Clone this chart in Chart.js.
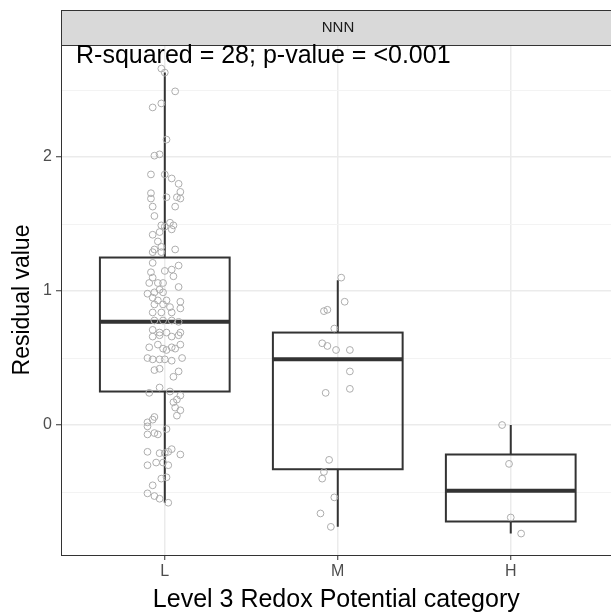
<!DOCTYPE html>
<html>
<head>
<meta charset="utf-8">
<script src="https://cdn.jsdelivr.net/npm/chart.js@4.4.1/dist/chart.umd.min.js"></script>
<style>
  html, body { margin: 0; padding: 0; background: #fff; overflow: hidden; }
  #wrap { width: 611px; height: 615px; overflow: hidden; }
  canvas { display: block; }
</style>
</head>
<body>
<div id="wrap"><canvas id="chart" width="616" height="615"></canvas></div>
<script>
// カテゴリ
const categories = ['L', 'M', 'H'];

// 箱ひげ図の統計量 (下ひげ, Q1, 中央値, Q3, 上ひげ)
const whiskerLow = [-0.58, -0.76, -0.81];
const q1 = [0.25, -0.33, -0.72];
const medians = [0.77, 0.49, -0.49];
const q3 = [1.25, 0.69, -0.22];
const whiskerHigh = [2.63, 1.08, 0.00];

// 個々の点 (残差) と横方向のジッター (カテゴリ単位)
const lValues = [2.66, 2.63, 2.49, 2.37, 2.40, 2.13, 2.01, 2.02, 1.87, 1.87, 1.84, 1.80, 1.74, 1.73, 1.69,
    1.70, 1.70, 1.69, 1.63, 1.63, 1.56, 1.49, 1.51, 1.49, 1.48, 1.44, 1.42, 1.46, 1.37, 1.33, 1.31, 1.31,
    1.29, 1.29, 1.21, 1.15, 1.16, 1.19, 1.14, 1.10, 1.11, 1.06, 1.06, 1.06, 1.03, 0.98, 0.99, 1.01, 0.99,
    0.95, 0.93, 0.93, 0.92, 0.90, 0.90, 0.88, 0.87, 0.84, 0.84, 0.84, 0.78, 0.78, 0.78, 0.77, 0.71, 0.69,
    0.69, 0.69, 0.66, 0.66, 0.67, 0.67, 0.58, 0.60, 0.57, 0.58, 0.60, 0.56, 0.57, 0.50, 0.49, 0.49, 0.49,
    0.48, 0.50, 0.41, 0.42, 0.36, 0.40, 0.24, 0.28, 0.25, 0.22, 0.19, 0.17, 0.13, 0.11, 0.07, 0.04, 0.06,
    0.02, -0.01, -0.07, -0.06, -0.07, -0.03, -0.20, -0.21, -0.21, -0.20, -0.18, -0.22, -0.30, -0.28, -0.28,
    -0.30, -0.40, -0.39, -0.45, -0.51, -0.53, -0.55, -0.58];
const lJitter = [-0.02, 0.00, 0.06, -0.07, -0.02, 0.01, -0.06, -0.03, -0.08, 0.00, 0.04, 0.08, 0.09, -0.08, -0.08,
    0.01, 0.07, 0.09, -0.07, 0.06, -0.06, -0.02, 0.03, 0.05, 0.00, -0.03, -0.07, 0.04, -0.04, -0.02, -0.06, 0.06,
    -0.07, -0.02, -0.07, 0.00, 0.04, 0.08, -0.08, -0.07, 0.05, -0.09, -0.04, -0.01, 0.08, -0.10, -0.06, -0.03, -0.01,
    -0.07, -0.04, 0.01, 0.09, -0.06, -0.01, 0.03, 0.09, -0.07, -0.02, 0.04, -0.06, -0.01, 0.04, 0.08, -0.07, -0.03,
    0.01, 0.09, -0.07, 0.04, -0.03, 0.08, -0.09, -0.04, -0.01, 0.04, 0.09, 0.01, 0.06, -0.10, -0.07, -0.03, 0.00,
    0.04, 0.10, -0.06, -0.03, 0.05, 0.08, -0.09, -0.03, 0.03, 0.09, 0.07, 0.05, 0.06, 0.09, 0.07, -0.07, -0.06,
    -0.10, -0.10, -0.10, -0.06, -0.04, 0.01, -0.10, -0.03, 0.00, 0.02, 0.04, 0.09, -0.10, -0.05, -0.01,
    0.02, -0.02, 0.01, -0.07, -0.10, -0.06, -0.03, 0.02];
const mValues = [1.10, 0.92, 0.85, 0.86, 0.72, 0.61, 0.59, 0.56, 0.56, 0.40, 0.24, 0.27, -0.26, -0.35, -0.40, -0.54, -0.66, -0.76];
const mJitter = [0.02, 0.04, -0.08, -0.06, -0.02, -0.09, -0.06, -0.01, 0.07, 0.07, -0.07, 0.07, -0.05, -0.08, -0.09, -0.02, -0.10, -0.04];
const hValues = [0.00, -0.29, -0.69, -0.81];
const hJitter = [-0.05, -0.01, 0.00, 0.06];

// 軸の目盛り
const yMajorTicks = [0, 1, 2];
const yGridValues = [-0.5, 0, 0.5, 1, 1.5, 2, 2.5];

const stripTitle = 'NNN';
const annotation = 'R-squared = 28; p-value = <0.001';

const FONT = '"Liberation Sans", Arial, sans-serif';

function toPoints(catIndex, values, jitter) {
    return values.map((v, i) => ({ x: catIndex + jitter[i], y: v }));
}

const points = [
    ...toPoints(0, lValues, lJitter),
    ...toPoints(1, mValues, mJitter),
    ...toPoints(2, hValues, hJitter)
];

// 箱ひげ図を描画
const boxPlugin = {
    id: 'boxes',
    beforeDatasetsDraw(chart) {
        const { ctx, scales: { x, y } } = chart;
        ctx.save();
        ctx.strokeStyle = '#333333';
        categories.forEach((c, i) => {
            const xc = x.getPixelForValue(i);
            const half = x.getPixelForValue(i + 0.375) - xc;
            const yLow = y.getPixelForValue(whiskerLow[i]);
            const yQ1 = y.getPixelForValue(q1[i]);
            const yMed = y.getPixelForValue(medians[i]);
            const yQ3 = y.getPixelForValue(q3[i]);
            const yHigh = y.getPixelForValue(whiskerHigh[i]);

            ctx.lineWidth = 2;
            ctx.beginPath();
            ctx.moveTo(xc, yHigh);
            ctx.lineTo(xc, yQ3);
            ctx.moveTo(xc, yQ1);
            ctx.lineTo(xc, yLow);
            ctx.stroke();

            ctx.strokeRect(xc - half, yQ3, half * 2, yQ1 - yQ3);

            ctx.lineWidth = 4;
            ctx.beginPath();
            ctx.moveTo(xc - half, yMed);
            ctx.lineTo(xc + half, yMed);
            ctx.stroke();
        });
        ctx.restore();
    },
    afterDraw(chart) {
        const { ctx, chartArea: a } = chart;
        ctx.save();
        // パネル枠 (右端は画面外)
        ctx.strokeStyle = '#333333';
        ctx.lineWidth = 1;
        ctx.strokeRect(a.left + 0.5, a.top, a.right - a.left + 5, a.bottom - a.top + 0.5);
        // ストリップ
        ctx.fillStyle = '#d9d9d9';
        ctx.fillRect(a.left, 10, a.right - a.left, a.top - 10);
        ctx.strokeRect(a.left + 0.5, 10.5, a.right - a.left + 5, a.top - 10);
        ctx.fillStyle = '#1a1a1a';
        ctx.font = '15px ' + FONT;
        ctx.textAlign = 'center';
        ctx.textBaseline = 'middle';
        ctx.fillText(stripTitle, 338, 28);
        // 注釈
        ctx.fillStyle = '#000000';
        ctx.font = '25px ' + FONT;
        ctx.textAlign = 'left';
        ctx.fillText(annotation, 76, 56);
        ctx.restore();
    }
};

new Chart(document.getElementById('chart'), {
    type: 'scatter',
    data: {
        datasets: [{
            data: points,
            pointStyle: 'circle',
            pointRadius: 3.4,
            pointHoverRadius: 3.4,
            borderColor: '#adadad',
            backgroundColor: 'rgba(0,0,0,0)',
            borderWidth: 1
        }]
    },
    options: {
        responsive: false,
        animation: false,
        devicePixelRatio: 1,
        layout: { padding: { top: 45, right: 0, left: 0, bottom: 0 } },
        plugins: { legend: { display: false }, tooltip: { enabled: false } },
        scales: {
            x: {
                type: 'linear',
                min: -0.6,
                max: 2.583,
                afterFit(scale) {
                    scale.height = 60;
                },
                afterBuildTicks(scale) {
                    scale.ticks = categories.map((c, i) => ({ value: i }));
                },
                ticks: {
                    color: '#4d4d4d',
                    font: { family: FONT, size: 16 },
                    padding: 2,
                    maxRotation: 0,
                    autoSkip: false,
                    callback: (v) => categories[v]
                },
                grid: { color: '#ebebeb', lineWidth: 1.5, tickLength: 5, tickColor: '#333333', tickWidth: 1 },
                border: { display: false },
                title: {
                    display: true,
                    text: 'Level 3 Redox Potential category',
                    color: '#000000',
                    font: { family: FONT, size: 25 },
                    padding: { top: 0, bottom: 0 }
                }
            },
            y: {
                min: -0.97,
                max: 2.836,
                afterFit(scale) { scale.width = 61; },
                afterBuildTicks(scale) {
                    scale.ticks = yGridValues.map(v => ({ value: v }));
                },
                ticks: {
                    color: '#4d4d4d',
                    font: { family: FONT, size: 16 },
                    padding: 4,
                    autoSkip: false,
                    callback: (v) => yMajorTicks.includes(v) ? String(v) : ''
                },
                grid: {
                    color: (c) => yMajorTicks.includes(c.tick && c.tick.value) ? '#ebebeb' : '#f3f3f3',
                    lineWidth: (c) => yMajorTicks.includes(c.tick && c.tick.value) ? 1.5 : 1,
                    tickLength: 5,
                    tickColor: (c) => yMajorTicks.includes(c.tick && c.tick.value) ? '#333333' : 'rgba(0,0,0,0)',
                    tickWidth: 1
                },
                border: { display: false },
                title: {
                    display: true,
                    text: 'Residual value',
                    color: '#000000',
                    font: { family: FONT, size: 23 },
                    padding: { top: 9, bottom: 0 }
                }
            }
        }
    },
    plugins: [boxPlugin]
});
</script>
</body>
</html>
